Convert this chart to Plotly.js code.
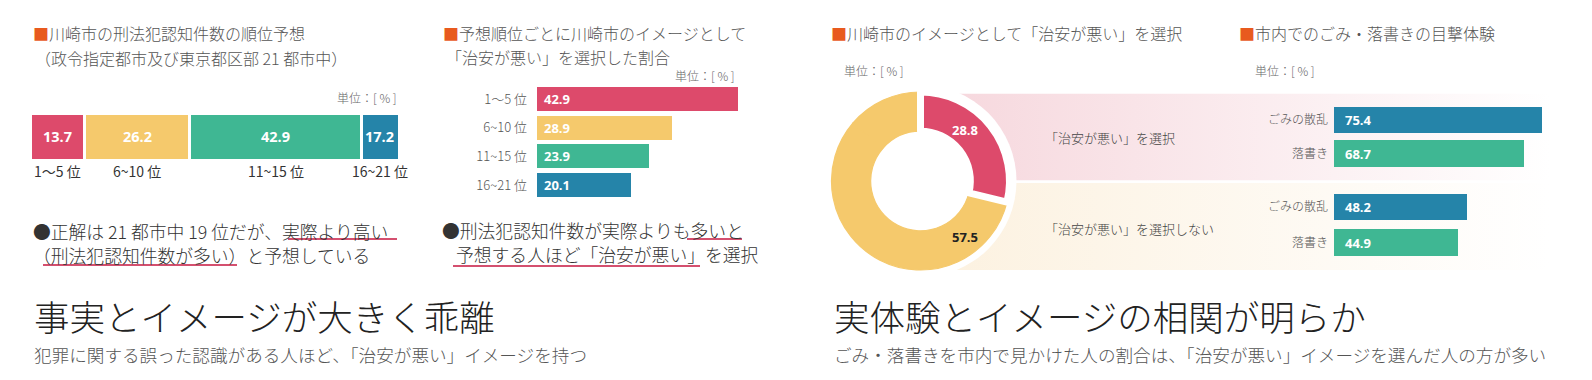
<!DOCTYPE html>
<html><head><meta charset="utf-8">
<script src="https://cdn.plot.ly/plotly-3.0.1.min.js"></script>
<style>html,body{margin:0;padding:0;background:#fff}#chart{width:1592px;height:380px}</style>
</head><body><div id="chart"></div>
<script>
// ---- data ----
const rankCats = ['1〜5 位', '6~10 位', '11~15 位', '16~21 位'];
const rankForecast = [13.7, 26.2, 42.9, 17.2];      // 順位予想の割合
const rankBadImage = [42.9, 28.9, 23.9, 20.1];      // 予想順位ごとの「治安が悪い」選択割合
const imageCats = ['「治安が悪い」を選択', '「治安が悪い」を選択しない', 'その他'];
const imageValues = [28.8, 57.5, 13.7];
const witnessCats = ['ごみの散乱', '落書き'];
const witnessBad = [75.4, 68.7];      // 「治安が悪い」を選択
const witnessNotBad = [48.2, 44.9];   // 「治安が悪い」を選択しない

// ---- style ----
const W = 1592, H = 380;
const RED = '#dd4a6b', YEL = '#f5c96c', GRN = '#3fb793', BLU = '#2584a9', ORG = '#e85a1e';
const rankColors = [RED, YEL, GRN, BLU];
const witnessColors = [BLU, GRN];
const JP = '"Noto Sans CJK JP", "Noto Sans", sans-serif';
const NUM = '"Open Sans", "Noto Sans", sans-serif';
const px = x => x / W, py = y => 1 - y / H;
const RANGE1 = 91.8;

const traces = [];
// panel 1: stacked bar
rankForecast.forEach((v, i) => traces.push({
  type: 'bar', orientation: 'h', x: [v], y: ['予想'], xaxis: 'x', yaxis: 'y', width: 1,
  marker: {color: rankColors[i], line: {color: '#fff', width: 3}},
  hoverinfo: 'skip', showlegend: false
}));
// panel 2
traces.push({
  type: 'bar', orientation: 'h', x: rankBadImage, y: rankCats, xaxis: 'x2', yaxis: 'y2', width: 0.836,
  marker: {color: rankColors}, hoverinfo: 'skip', showlegend: false
});
// panel 3: donut (drawn order: yellow, rest, red last so its white outline shows)
const order = [1, 2, 0];
const sumImg = imageValues.reduce((a, b) => a + b, 0);
traces.push({
  type: 'pie', values: order.map(i => imageValues[i]), labels: order.map(i => imageCats[i]),
  sort: false, direction: 'clockwise', rotation: 360 * imageValues[0] / sumImg, hole: 0.56,
  marker: {colors: [YEL, YEL, RED], line: {color: [YEL, YEL, '#fff'], width: [1.2, 1.2, 7]}},
  textinfo: 'none', hoverinfo: 'skip', showlegend: false,
  domain: {x: [px(831.5), px(1009.5)], y: [py(270), py(92)]}
});
// panel 4
traces.push({
  type: 'bar', orientation: 'h', x: witnessBad, y: witnessCats, xaxis: 'x3', yaxis: 'y3', width: 0.79,
  marker: {color: witnessColors}, hoverinfo: 'skip', showlegend: false
});
traces.push({
  type: 'bar', orientation: 'h', x: witnessNotBad, y: witnessCats, xaxis: 'x4', yaxis: 'y4', width: 0.746,
  marker: {color: witnessColors}, hoverinfo: 'skip', showlegend: false
});

const hid = {showgrid: false, zeroline: false, showline: false, showticklabels: false, fixedrange: true, ticks: ''};
const catAx = (domain, anchor, size, standoff) => Object.assign({}, hid, {
  domain, anchor, type: 'category', autorange: 'reversed', showticklabels: true,
  tickfont: {family: JP, size: size, color: '#555', weight: 300}, ticklabelstandoff: standoff
});

const ann = [];
const A = (x, y, text, o = {}) => ann.push(Object.assign({
  xref: 'paper', yref: 'paper', x: px(x), y: py(y), text, showarrow: false,
  xanchor: 'left', yanchor: 'middle', font: {family: JP, size: 16, color: '#555', weight: 300}
}, o));
const sq = t => `<span style="color:${ORG}">■</span>${t}`;

// titles
A(31, 33, sq('川崎市の刑法犯認知件数の順位予想'));
A(33, 58, '（政令指定都市及び東京都区部 21 都市中）');
A(441, 33, sq('予想順位ごとに川崎市のイメージとして'));
A(444, 57, '「治安が悪い」を選択した割合');
A(829, 33, sq('川崎市のイメージとして「治安が悪い」を選択'));
A(1237, 33, sq('市内でのごみ・落書きの目撃体験'));
// units
const unitF = {family: JP, size: 12, color: '#666', weight: 300};
A(399, 97, '単位：[ % ]', {xanchor: 'right', font: unitF});
A(737, 75, '単位：[ % ]', {xanchor: 'right', font: unitF});
A(842, 70, '単位：[ % ]', {font: unitF});
A(1253, 70, '単位：[ % ]', {font: unitF});

// panel 1 labels (in data coordinates)
let cum = 0;
rankForecast.forEach((v, i) => {
  const s = cum, e = Math.min(cum + v, RANGE1), c = (s + e) / 2;
  ann.push({xref: 'x', yref: 'y', x: c, y: '予想', text: v.toFixed(1), showarrow: false,
    font: {family: NUM, size: 14.5, color: '#fff', weight: 700}});
  ann.push({xref: 'x', yref: 'paper', x: c, y: py(171), text: rankCats[i], showarrow: false,
    yanchor: 'middle', font: {family: JP, size: 14, color: '#333'}});
  cum += v;
});
// panel 2 values
rankBadImage.forEach((v, i) => ann.push({xref: 'x2', yref: 'y2', x: 0, y: rankCats[i], text: v.toFixed(1),
  showarrow: false, xanchor: 'left', xshift: 5, font: {family: NUM, size: 13, color: '#fff', weight: 700}}));
// panel 4 values
witnessBad.forEach((v, i) => ann.push({xref: 'x3', yref: 'y3', x: 0, y: witnessCats[i], text: v.toFixed(1),
  showarrow: false, xanchor: 'left', xshift: 9, font: {family: NUM, size: 13, color: '#fff', weight: 700}}));
witnessNotBad.forEach((v, i) => ann.push({xref: 'x4', yref: 'y4', x: 0, y: witnessCats[i], text: v.toFixed(1),
  showarrow: false, xanchor: 'left', xshift: 9, font: {family: NUM, size: 13, color: '#fff', weight: 700}}));
// donut labels
A(965, 130, imageValues[0].toFixed(1), {xanchor: 'center', font: {family: NUM, size: 13, color: '#fff', weight: 700}});
A(965, 237, imageValues[1].toFixed(1), {xanchor: 'center', font: {family: NUM, size: 13, color: '#222', weight: 700}});
// band labels
A(1043, 137, imageCats[0], {font: {family: JP, size: 13, color: '#444', weight: 300}});
A(1043, 228, imageCats[1], {font: {family: JP, size: 13, color: '#444', weight: 300}});

// bullets
const bF = {family: JP, size: 17.8, color: '#333', weight: 300};
A(31, 231, '●正解は 21 都市中 19 位だが、実際より高い', {font: bF, height: 22});
A(31, 255, '（刑法犯認知件数が多い）と予想している', {font: bF, height: 22});
A(440, 230, '●刑法犯認知件数が実際よりも多いと', {font: bF, height: 22});
A(454, 254, '予想する人ほど「治安が悪い」を選択', {font: bF, height: 22});
// headlines
const hF = {family: JP, size: 35.5, color: '#222', weight: 300};
const sF = {family: JP, size: 17.6, color: '#555', weight: 300};
A(32, 314.5, '事実とイメージが大きく乖離', {font: hF, height: 38});
A(32, 353.5, '犯罪に関する誤った認識がある人ほど、「治安が悪い」イメージを持つ', {font: sF, height: 22});
A(832, 314.5, '実体験とイメージの相関が明らか', {font: hF, height: 38});
A(832, 353.5, 'ごみ・落書きを市内で見かけた人の割合は、「治安が悪い」イメージを選んだ人の方が多い', {font: sF, height: 22});

// shapes
const UL = '#d4506f';
const line = (x0, x1, y) => ({type: 'line', xref: 'paper', yref: 'paper', x0: px(x0), x1: px(x1), y0: py(y), y1: py(y),
  line: {color: UL, width: 2}});
const shapes = [
  line(288, 397, 239), line(43, 237, 265), line(687, 742, 239), line(453, 700, 266),
  {type: 'circle', xref: 'paper', yref: 'paper', xsizemode: 'pixel', ysizemode: 'pixel',
   xanchor: px(920.5), yanchor: py(181), x0: -96, x1: 96, y0: -96, y1: 96,
   fillcolor: '#fff', line: {width: 0}, layer: 'below'}
];

function grad(c) {
  const s = `<svg xmlns="http://www.w3.org/2000/svg" width="100" height="10" viewBox="0 0 100 10" preserveAspectRatio="none"><defs><linearGradient id="g" x1="0" x2="1" y1="0" y2="0"><stop offset="0" stop-color="${c}"/><stop offset="1" stop-color="#ffffff"/></linearGradient></defs><rect width="100" height="10" fill="url(#g)"/></svg>`;
  return 'data:image/svg+xml;base64,' + btoa(s);
}
const images = [
  {source: grad('#f6d6dc'), xref: 'paper', yref: 'paper', x: px(918), y: py(93.5), sizex: 632 / W, sizey: 87 / H,
   xanchor: 'left', yanchor: 'top', sizing: 'stretch', layer: 'below'},
  {source: grad('#fcf1df'), xref: 'paper', yref: 'paper', x: px(918), y: py(183), sizex: 632 / W, sizey: 87 / H,
   xanchor: 'left', yanchor: 'top', sizing: 'stretch', layer: 'below'}
];

const layout = {
  width: W, height: H, margin: {l: 0, r: 0, t: 0, b: 0},
  paper_bgcolor: '#fff', plot_bgcolor: 'rgba(0,0,0,0)',
  barmode: 'stack', showlegend: false, hovermode: false,
  font: {family: JP, color: '#555'},
  xaxis: Object.assign({}, hid, {domain: [px(30), px(398)], range: [0, RANGE1], anchor: 'y'}),
  yaxis: Object.assign({}, hid, {domain: [py(160), py(113)], anchor: 'x', type: 'category'}),
  xaxis2: Object.assign({}, hid, {domain: [px(537), px(771)], range: [0, 50], anchor: 'y2'}),
  yaxis2: catAx([py(199.45), py(84.65)], 'x2', 13, 9),
  xaxis3: Object.assign({}, hid, {domain: [px(1334), px(1554.8)], range: [0, 80], anchor: 'y3'}),
  yaxis3: catAx([py(170.25), py(103.25)], 'x3', 12, 5),
  xaxis4: Object.assign({}, hid, {domain: [px(1334), px(1554.8)], range: [0, 80], anchor: 'y4'}),
  yaxis4: catAx([py(260.25), py(189.25)], 'x4', 12, 5),
  annotations: ann, shapes, images
};
Plotly.newPlot('chart', traces, layout, {staticPlot: true, displayModeBar: false});
</script></body></html>
